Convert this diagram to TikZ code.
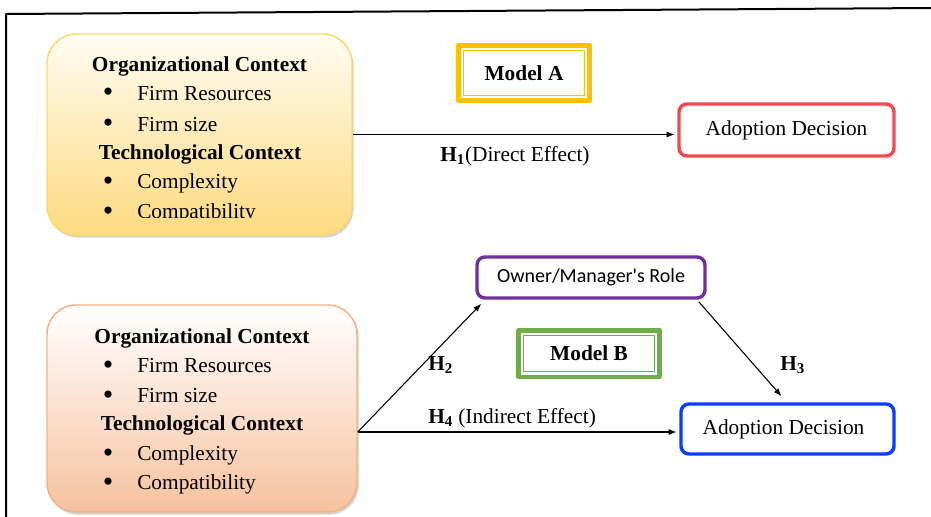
\documentclass[tikz,border=0pt]{standalone}
\usepackage{fontspec}
\usepackage{graphicx}
\setmainfont{Liberation Serif}
\newfontfamily\calibrifont{Carlito}
\usetikzlibrary{arrows.meta,shadows}
\definecolor{ctxYb}{HTML}{FFD966}
\definecolor{ctxYtop}{HTML}{FFFCF2}
\definecolor{ctxYbot}{HTML}{FDDA80}
\definecolor{ctxOb}{HTML}{F4B183}
\definecolor{ctxObot}{HTML}{F6C29E}
\definecolor{modAcol}{HTML}{FFC000}
\definecolor{modBcol}{HTML}{70AD47}
\definecolor{adAcol}{HTML}{F04A4E}
\definecolor{adBcol}{HTML}{0A3DFF}
\definecolor{ownercol}{HTML}{7030A0}
\newcommand{\bigdot}{\raisebox{-1.5pt}{\scalebox{1.4}{\textbullet}}}
\begin{document}
\begin{tikzpicture}[x=0.75pt,y=-0.75pt,font=\fontsize{16}{19}\selectfont, line join=round,
	ctxbox/.style={draw=#1,line width=1.1pt,rounded corners=22pt,inner sep=0pt,
		drop shadow={opacity=0.35,shadow xshift=1.2pt,shadow yshift=-2pt}},
	decbox/.style={draw=#1,line width=2.6pt,rounded corners=6pt,inner sep=0pt,fill=white},
	modout/.style={draw=#1,line width=3.4pt,inner sep=0pt},
	modin/.style={draw=#1,line width=1pt,inner sep=0pt,font=\fontsize{16}{19}\selectfont\bfseries},
	hdr/.style={anchor=base,inner sep=0pt,font=\fontsize{16}{19}\selectfont\bfseries},
	item/.style={anchor=base west,inner sep=0pt},
	dot/.style={anchor=base,inner sep=0pt},
	lbl/.style={anchor=base west,inner sep=0pt},
	arr/.style={-{Latex[length=6pt,width=4.5pt]},line width=0.8pt}]
\useasboundingbox (0,0) rectangle (931,517);
\draw[line width=1.5pt] (6,517)--(6,14)--(931,8);

\node[ctxbox=ctxYb,top color=ctxYtop,bottom color=ctxYbot,minimum width=228.75pt,minimum height=150.75pt] (orgA) at (199.5,134.5) {};
\node[ctxbox=ctxOb,top color=white,bottom color=ctxObot,minimum width=232.5pt,minimum height=155.25pt] (orgB) at (202,408.5) {};

\node[hdr] (orgAh1) at (199.5,72) {Organizational Context};
\node[hdr] (orgAh2) at (200,159) {Technological Context};
\foreach \t/\yy [count=\i] in {Firm Resources/100,Firm size/131,Complexity/188}{
	\node[dot] (bA\i) at (108,\yy) {\bigdot};
	\node[item] (iA\i) at (137,\yy) {\t};}
\begin{scope}
	\clip (47,34) rectangle (352,217);
	\node[dot] (bA4) at (108,218) {\bigdot};
	\node[item] (iA4) at (137,218) {Compatibility};
\end{scope}

\node[hdr] (orgBh1) at (202,343) {Organizational Context};
\node[hdr] (orgBh2) at (202,430) {Technological Context};
\foreach \t/\yy [count=\i] in {Firm Resources/372,Firm size/402,Complexity/460,Compatibility/489}{
	\node[dot] (bB\i) at (108,\yy) {\bigdot};
	\node[item] (iB\i) at (137,\yy) {\t};}

\node[modout=modAcol,minimum width=98.6pt,minimum height=41.6pt] (modA) at (524,73) {};
\node[modin=modAcol,minimum width=91pt,minimum height=34pt] (modAin) at (524,73) {Model A};
\node[modout=modBcol,minimum width=106.1pt,minimum height=34.9pt] (modB) at (589,353.5) {};
\node[modin=modBcol,minimum width=98.5pt,minimum height=27.3pt] (modBin) at (589,353.5) {Model B};

\node[decbox=adAcol,minimum width=161.25pt,minimum height=39pt] (adA) at (786.5,130) {Adoption Decision};
\node[decbox=ownercol,minimum width=171pt,minimum height=30.75pt,font=\calibrifont\fontsize{15}{18}\selectfont] (owner) at (591,277.5) {Owner/Manager's Role};
\node[decbox=adBcol,minimum width=159.75pt,minimum height=37.5pt] (adB) at (787.5,429) {\hspace*{-6pt}Adoption Decision};

\coordinate (srcB) at ([shift={(0,23.5)}]orgB.east);
\draw[arr,shorten >=2pt] (orgA.east) -- (orgA.east -| adA.west);
\draw[arr,shorten >=2pt] (srcB) -- (srcB -| adB.west);
\draw[arr] (srcB) -- ([shift={(6,4)}]owner.south west);
\draw[arr] ([shift={(-8,2)}]owner.south east) -- ([shift={(-6,-6)}]adB.north);

\node[lbl] (lH1) at (440,161) {\textbf{H\textsubscript{1}}(Direct Effect)};
\node[lbl] (lH2) at (428,370) {\textbf{H\textsubscript{2}}};
\node[lbl] (lH3) at (780,370) {\textbf{H\textsubscript{3}}};
\node[lbl] (lH4) at (428,423) {\textbf{H\textsubscript{4}} (Indirect Effect)};
\end{tikzpicture}
\end{document}
